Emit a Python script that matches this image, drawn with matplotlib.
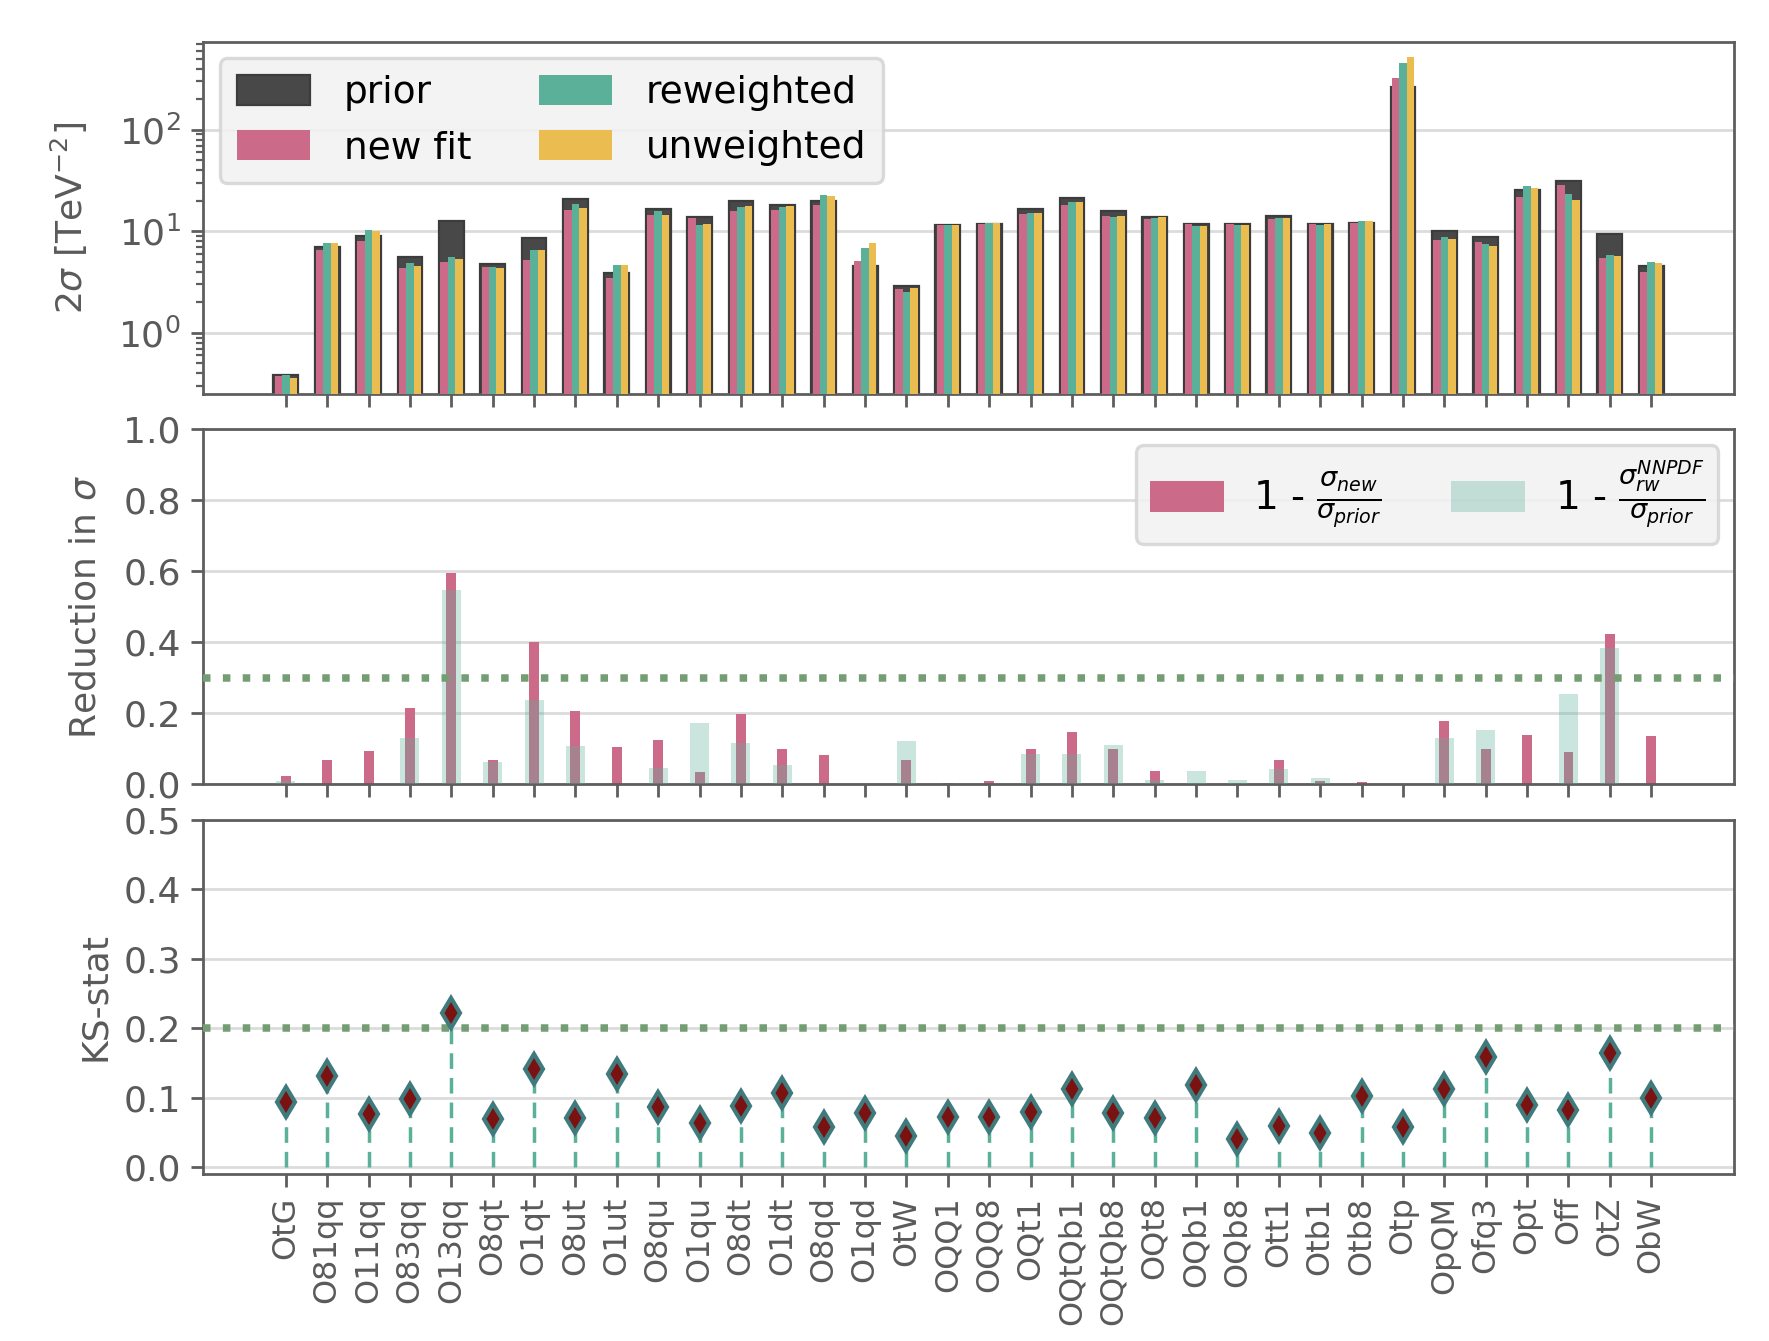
import numpy as np
import matplotlib
matplotlib.use("Agg")
import matplotlib.pyplot as plt
from matplotlib.ticker import LogLocator, NullFormatter, MultipleLocator

# ---------------- data ----------------
operators = ["OtG", "O81qq", "O11qq", "O83qq", "O13qq", "O8qt", "O1qt", "O8ut",
             "O1ut", "O8qu", "O1qu", "O8dt", "O1dt", "O8qd", "O1qd", "OtW",
             "OQQ1", "OQQ8", "OQt1", "OQtQb1", "OQtQb8", "OQt8", "OQb1", "OQb8",
             "Ott1", "Otb1", "Otb8", "Otp", "OpQM", "Ofq3", "Opt", "Off", "OtZ", "ObW"]

prior = [0.388, 7.02, 9.0, 5.6, 12.6, 4.78, 8.6, 20.7, 3.9, 16.6, 13.8, 19.8,
         18.1, 19.8, 4.57, 2.89, 11.5, 11.8, 16.6, 21.2, 15.8, 13.8, 11.8, 11.8,
         14.1, 11.8, 12.1, 266.0, 10.1, 8.8, 25.4, 31.1, 9.42, 4.57]
new_fit = [0.38, 6.56, 8.1, 4.4, 5.0, 4.45, 5.2, 16.2, 3.49, 14.5, 13.4, 15.8,
           16.2, 18.1, 5.12, 2.72, 11.5, 11.7, 14.9, 18.1, 14.2, 13.3, 11.8, 11.8,
           13.1, 11.7, 12.0, 326.0, 8.22, 7.9, 22.0, 28.3, 5.45, 3.99]
reweighted = [0.385, 7.69, 10.3, 4.89, 5.6, 4.47, 6.56, 18.5, 4.68, 15.8, 11.5, 17.3,
              17.3, 22.7, 6.87, 2.54, 11.5, 12.1, 15.1, 19.4, 13.8, 13.5, 11.3, 11.5,
              13.5, 11.6, 12.6, 457.0, 8.8, 7.51, 27.8, 23.2, 5.86, 5.0]
unweighted = [0.357, 7.69, 10.1, 4.57, 5.35, 4.37, 6.56, 16.9, 4.68, 14.5, 11.8, 17.7,
              17.7, 22.2, 7.69, 2.78, 11.5, 12.1, 15.1, 19.4, 14.1, 13.8, 11.3, 11.5,
              13.5, 11.8, 12.6, 524.0, 8.41, 7.18, 26.6, 20.3, 5.73, 4.89]

reduction_new = [0.025, 0.070, 0.093, 0.214, 0.594, 0.068, 0.400, 0.206, 0.105, 0.126,
                 0.034, 0.198, 0.099, 0.082, -0.12, 0.068, 0.003, 0.009, 0.099, 0.149,
                 0.099, 0.037, 0.002, 0.004, 0.070, 0.011, 0.006, -0.23, 0.180, 0.099,
                 0.138, 0.091, 0.423, 0.136]
reduction_rw = [0.009, -0.095, -0.14, 0.130, 0.547, 0.062, 0.237, 0.107, -0.20, 0.045,
                0.172, 0.118, 0.054, -0.15, -0.50, 0.122, 0.0, -0.025, 0.087, 0.087,
                0.110, 0.014, 0.037, 0.014, 0.043, 0.017, -0.04, -0.70, 0.132, 0.153,
                -0.09, 0.254, 0.383, -0.09]

ks_stat = [0.094, 0.131, 0.076, 0.098, 0.222, 0.069, 0.141, 0.071, 0.134, 0.087,
           0.064, 0.088, 0.107, 0.058, 0.078, 0.045, 0.072, 0.072, 0.079, 0.113,
           0.078, 0.071, 0.118, 0.041, 0.059, 0.049, 0.102, 0.058, 0.112, 0.158,
           0.089, 0.082, 0.164, 0.099]

reduction_threshold = 0.3
ks_threshold = 0.2

# ---------------- style ----------------
c_prior = "#484848"
c_new = "#cc6b89"
c_rw = "#5bb09a"
c_unw = "#ebbd50"
c_spine = "#5e5e5e"
c_text = "#5a5a5a"
c_grid = "#dcdcdc"
c_thr = "#749d74"

plt.rcParams["font.family"] = ["DejaVu Sans"]
plt.rcParams["mathtext.fontset"] = "dejavusans"

DPI = 200
fig = plt.figure(figsize=(1769 / DPI, 1341 / DPI), dpi=DPI)

left, width = 0.1148, 0.8654
ax1 = fig.add_axes([left, 0.7062, width, 0.2628])
ax2 = fig.add_axes([left, 0.4150, width, 0.2649])
ax3 = fig.add_axes([left, 0.1245, width, 0.2642])

x = np.arange(len(operators))

for ax in (ax1, ax2, ax3):
    for s in ax.spines.values():
        s.set_color(c_spine)
        s.set_linewidth(1.0)
    ax.tick_params(axis="both", which="major", direction="out", length=4.5, width=1.0,
                   color=c_spine, labelcolor=c_text, labelsize=13)
    ax.set_axisbelow(True)
    ax.grid(axis="y", which="major", color=c_grid, linewidth=1.0)
    ax.set_xlim(-2, 35)
    ax.set_xticks(x)

# ---------------- top panel ----------------
ax1.set_yscale("log")
ax1.bar(x, prior, width=0.6, color=c_prior, edgecolor="#3c3c3c", linewidth=0.8,
        label="prior", zorder=2)
bw = 0.18
ax1.bar(x - bw, new_fit, width=bw, color=c_new, label="new fit", zorder=3)
ax1.bar(x, reweighted, width=bw, color=c_rw, label="reweighted", zorder=3)
ax1.bar(x + bw, unweighted, width=bw, color=c_unw, label="unweighted", zorder=3)
ax1.set_ylim(0.25, 740)
ax1.yaxis.set_major_locator(LogLocator(base=10, numticks=10))
ax1.yaxis.set_minor_locator(LogLocator(base=10, subs=np.arange(2, 10) * 0.1, numticks=20))
ax1.yaxis.set_minor_formatter(NullFormatter())
ax1.tick_params(axis="y", which="minor", length=2.5, width=0.8, color=c_spine)
ax1.set_xticklabels([])
ax1.set_ylabel(r"2$\sigma$ [TeV$^{-2}$]", fontsize=13, color=c_text, labelpad=10)
leg1 = ax1.legend(loc="upper left", ncol=2, fontsize=13.5, frameon=True,
                  facecolor="#f2f2f2", edgecolor="#d4d4d4", framealpha=0.85,
                  handlelength=1.95, handleheight=0.85, labelspacing=0.5,
                  columnspacing=1.8, borderaxespad=0.45, handletextpad=0.9,
                  borderpad=0.45)
leg1.get_frame().set_linewidth(1.2)

# ---------------- middle panel ----------------
ax2.bar(x, reduction_new, width=0.24, color=c_new, zorder=2,
        label=r"1 - $\frac{\sigma_{new}}{\sigma_{prior}}$")
ax2.bar(x, reduction_rw, width=0.46, color=c_rw, alpha=0.32, zorder=3,
        label=r"1 - $\frac{\sigma_{rw}^{NNPDF}}{\sigma_{prior}}$")
ax2.axhline(reduction_threshold, color=c_thr, linestyle=":", linewidth=2.7, zorder=4)
ax2.set_ylim(0, 1.0)
ax2.yaxis.set_major_locator(MultipleLocator(0.2))
ax2.set_xticklabels([])
ax2.set_ylabel(r"Reduction in $\sigma$", fontsize=13, color=c_text, labelpad=7.5)
leg2 = ax2.legend(loc="upper right", ncol=2, fontsize=14, frameon=True,
                  facecolor="#f2f2f2", edgecolor="#d4d4d4", framealpha=0.85,
                  handlelength=1.9, handleheight=0.85, columnspacing=1.8,
                  borderaxespad=0.4, borderpad=0.35, handletextpad=0.75)
leg2.get_frame().set_linewidth(1.2)

# ---------------- bottom panel ----------------
ax3.vlines(x, 0, ks_stat, colors=c_rw, linestyles=(0, (4.5, 2.6)), linewidth=1.25, zorder=2)
ax3.axhline(ks_threshold, color=c_thr, linestyle=":", linewidth=2.7, zorder=3)
ax3.plot(x, ks_stat, linestyle="none", marker="d", markersize=7.5,
         markerfacecolor="#7a1212", markeredgecolor="#3f7a7c", markeredgewidth=1.5,
         zorder=4)
ax3.set_ylim(-0.01, 0.5)
ax3.yaxis.set_major_locator(MultipleLocator(0.1))
ax3.set_xticklabels(operators, rotation=90, fontsize=11.5, color=c_text)
ax3.set_ylabel("KS-stat", fontsize=13, color=c_text)

fig.savefig("out.png", dpi=DPI)
